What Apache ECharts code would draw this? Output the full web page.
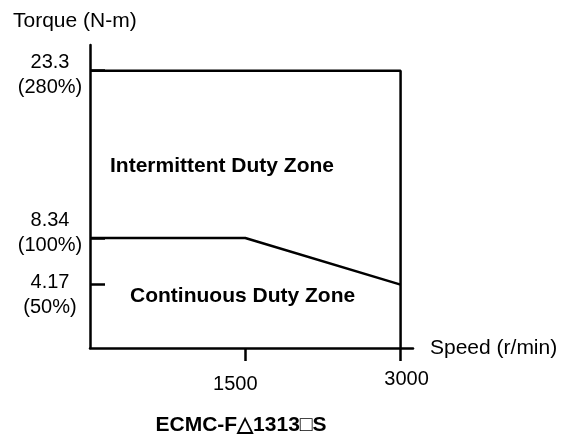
<!DOCTYPE html>
<html>
<head>
<meta charset="utf-8">
<script src="https://cdn.jsdelivr.net/npm/echarts@6/dist/echarts.min.js"></script>
<style>
  html, body { margin: 0; padding: 0; background: #fff; }
  #chart { width: 570px; height: 436px; }
</style>
</head>
<body>
<div id="chart"></div>
<script>
// Speed-torque characteristic, ECMC-F△1313□S servo motor
const speedTicks = [1500, 3000];            // r/min
const torqueTicks = [4.17, 8.34, 23.3];     // N-m
const torquePercent = ['50%', '100%', '280%'];

// Peak (intermittent) torque boundary
const peakSpeed = [0, 3000, 3000];
const peakTorque = [23.3, 23.3, null];      // last point drops to the axis floor

// Rated (continuous) torque boundary
const ratedSpeed = [0, 1500, 3000];
const ratedTorque = [8.34, 8.34, 4.17];

const torqueMin = -1.5;
const torqueMax = 25.6;
const speedMax = 3120;

const FONT = '"Liberation Sans", Arial, Helvetica, sans-serif';
const INK = '#000';

const peakData = peakSpeed.map((s, i) => [s, peakTorque[i] === null ? torqueMin : peakTorque[i]]);
const ratedData = ratedSpeed.map((s, i) => [s, ratedTorque[i]]);

// Two-line torque labels: vertical nudge of each block (px, + = down)
const labelNudge = [10, -5, 4];
const LINE_H = 25;

function padFor(shift) {
  // a token with padding [t, 0, b, 0] and a fixed lineHeight moves by (t - b) / 2
  const p = Math.round(Math.abs(shift) * 2);
  return shift >= 0 ? [p, 0, 0, 0] : [0, 0, p, 0];
}

const torqueRich = {};
labelNudge.forEach((n, i) => {
  torqueRich['t' + i] = { fontFamily: FONT, fontSize: 20, color: INK, lineHeight: LINE_H, padding: padFor(n) };
});

function torqueLabel(v) {
  const i = torqueTicks.findIndex(t => Math.abs(t - v) < 1e-6);
  if (i < 0) return '';
  return '{t' + i + '|' + torqueTicks[i] + '}\n{t' + i + '|(' + torquePercent[i] + ')}';
}

// The torque scale is split over two coincident y axes so that the closely
// spaced rated / half-rated labels are both kept.
function torqueAxis(values, withLine) {
  return {
    type: 'value',
    position: 'left',
    offset: 0,
    min: torqueMin,
    max: torqueMax,
    axisLine: { show: withLine, onZero: false, lineStyle: { color: INK, width: 2.5 } },
    axisTick: { show: true, customValues: values, length: 15, inside: true, lineStyle: { color: INK, width: 2.5 } },
    axisLabel: {
      customValues: values,
      margin: 40,
      align: 'center',
      showMinLabel: true,
      showMaxLabel: true,
      hideOverlap: false,
      fontFamily: FONT,
      fontSize: 20,
      lineHeight: LINE_H,
      color: INK,
      formatter: torqueLabel,
      rich: torqueRich
    },
    splitLine: { show: false }
  };
}

const chart = echarts.init(document.getElementById('chart'), null, { renderer: 'canvas' });

chart.setOption({
  animation: false,
  backgroundColor: '#fff',
  grid: { left: 90, right: 157, top: 45, bottom: 88, containLabel: false },
  xAxis: {
    type: 'value',
    min: 0,
    max: speedMax,
    name: 'Speed (r/min)',
    nameLocation: 'end',
    nameGap: 17,
    nameTextStyle: { fontFamily: FONT, fontSize: 21, color: INK, align: 'left', verticalAlign: 'middle' },
    axisLine: { onZero: false, lineStyle: { color: INK, width: 2.5 } },
    axisTick: { show: true, customValues: speedTicks, length: 13, inside: false, lineStyle: { color: INK, width: 2.5 } },
    axisLabel: {
      customValues: speedTicks,
      margin: 21,
      showMinLabel: true,
      showMaxLabel: true,
      hideOverlap: false,
      fontFamily: FONT,
      fontSize: 20,
      color: INK,
      formatter: v => (v === 1500 ? '{a|' + v + '}' : '{b|' + v + '}'),
      rich: {
        a: { fontFamily: FONT, fontSize: 20, color: INK, padding: [5, 20, 0, 0] },
        b: { fontFamily: FONT, fontSize: 20, color: INK, padding: [0, 0, 0, 12] }
      }
    },
    splitLine: { show: false }
  },
  yAxis: [
    torqueAxis(torqueTicks.filter(v => v > 5), true),
    torqueAxis(torqueTicks.filter(v => v <= 5), false)
  ],
  series: [
    {
      name: 'Intermittent',
      type: 'line',
      yAxisIndex: 0,
      data: peakData,
      symbol: 'none',
      lineStyle: { color: INK, width: 2.5 },
      z: 3
    },
    {
      name: 'Continuous',
      type: 'line',
      yAxisIndex: 0,
      data: ratedData,
      symbol: 'none',
      lineStyle: { color: INK, width: 2.5 },
      z: 3
    }
  ],
  graphic: [
    {
      type: 'text', x: 13, y: 21,
      style: { text: 'Torque (N-m)', font: '21px ' + FONT, fill: INK, verticalAlign: 'middle' }
    },
    {
      type: 'text', x: 110, y: 166,
      style: { text: 'Intermittent Duty Zone', font: 'bold 21px ' + FONT, fill: INK, verticalAlign: 'middle' }
    },
    {
      type: 'text', x: 130, y: 296,
      style: { text: 'Continuous Duty Zone', font: 'bold 21px ' + FONT, fill: INK, verticalAlign: 'middle' }
    },
    {
      type: 'text', x: 241, y: 425,
      style: { text: 'ECMC-F△1313□S', font: 'bold 21px ' + FONT, fill: INK, align: 'center', verticalAlign: 'middle' }
    }
  ]
});
</script>
</body>
</html>
